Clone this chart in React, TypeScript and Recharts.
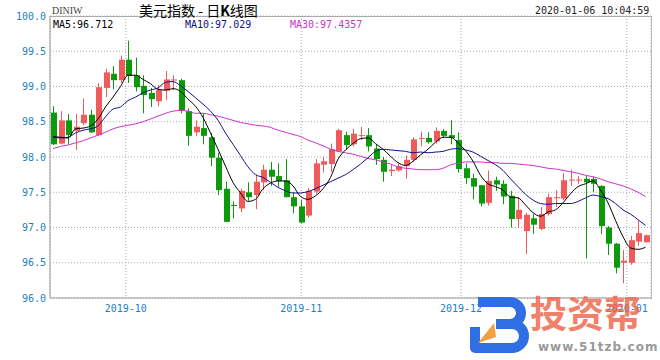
import React from 'react'
import { ComposedChart, Bar, Line, XAxis, YAxis, CartesianGrid } from 'recharts'

// daily candles, oldest -> newest
const openP = [
  98.63, 98.19, 98.52, 98.37, 98.48, 98.60, 98.31, 98.98, 99.18, 99.09,
  99.38, 99.16, 99.01, 98.91, 98.79, 98.94, 99.09, 99.09, 98.65, 98.35,
  98.41, 98.28, 97.99, 97.55, 97.32, 97.27, 97.50, 97.46, 97.64, 97.82,
  97.73, 97.67, 97.43, 97.30, 97.17, 97.51, 97.89, 97.90, 98.08, 98.31,
  98.18, 98.30, 98.31, 98.12, 97.96, 97.80, 97.81, 97.87, 97.96, 98.26,
  98.27, 98.22, 98.37, 98.31, 98.24, 97.84, 97.70, 97.60, 97.35, 97.67,
  97.62, 97.45, 97.12, 96.95, 97.13, 96.98, 97.19, 97.42, 97.41, 97.67,
  97.68, 97.69, 97.69, 97.59, 97.00, 96.77, 96.50, 96.50, 96.80, 96.79,
]
const highP = [
  98.72, 98.65, 98.61, 98.61, 98.83, 98.67, 99.05, 99.25, 99.29, 99.44,
  99.65, 99.41, 99.16, 98.98, 99.02, 99.22, 99.16, 99.11, 98.69, 98.52,
  98.62, 98.34, 98.06, 97.65, 97.37, 97.55, 97.64, 97.75, 97.89, 97.93,
  97.91, 97.97, 97.50, 97.39, 97.56, 97.97, 98.00, 98.19, 98.40, 98.36,
  98.40, 98.43, 98.41, 98.18, 98.00, 97.89, 97.91, 98.02, 98.28, 98.36,
  98.35, 98.42, 98.40, 98.52, 98.35, 97.91, 97.76, 97.60, 97.81, 97.72,
  97.67, 97.52, 97.43, 97.21, 97.19, 97.29, 97.48, 97.53, 97.77, 97.82,
  97.73, 97.73, 97.72, 97.60, 97.02, 96.78, 96.68, 96.88, 97.09, 96.90,
]
const lowP = [
  98.17, 98.18, 98.18, 98.10, 98.45, 98.34, 98.30, 98.85, 98.96, 99.05,
  99.05, 98.93, 98.62, 98.71, 98.72, 98.81, 98.95, 98.62, 98.16, 98.30,
  98.18, 97.87, 97.46, 97.08, 97.13, 97.22, 97.38, 97.26, 97.53, 97.59,
  97.58, 97.43, 97.20, 97.06, 97.14, 97.48, 97.78, 97.79, 98.07, 98.10,
  98.15, 98.24, 98.08, 97.89, 97.65, 97.73, 97.79, 97.69, 97.93, 98.15,
  98.19, 98.19, 98.28, 98.18, 97.78, 97.62, 97.40, 97.30, 97.31, 97.52,
  97.33, 97.00, 97.00, 96.62, 96.91, 96.96, 97.17, 97.29, 97.39, 97.59,
  97.62, 96.56, 97.50, 96.91, 96.61, 96.35, 96.21, 96.47, 96.74, 96.79,
]
const closeP = [
  98.18, 98.52, 98.31, 98.43, 98.60, 98.35, 98.99, 99.20, 99.09, 99.38,
  99.15, 98.99, 98.88, 98.82, 98.95, 99.10, 99.10, 98.66, 98.30, 98.43,
  98.30, 97.99, 97.53, 97.08, 97.31, 97.52, 97.43, 97.65, 97.82, 97.72,
  97.66, 97.43, 97.30, 97.07, 97.52, 97.91, 97.94, 98.11, 98.38, 98.17,
  98.33, 98.31, 98.15, 97.97, 97.79, 97.82, 97.87, 97.96, 98.25, 98.27,
  98.21, 98.37, 98.30, 98.27, 97.83, 97.70, 97.58, 97.34, 97.66, 97.61,
  97.44, 97.12, 97.25, 97.18, 97.04, 97.19, 97.43, 97.43, 97.67, 97.68,
  97.68, 97.64, 97.62, 97.02, 96.77, 96.43, 96.53, 96.82, 96.92, 96.89,
]
const ma5 = [
  98.29, 98.28, 98.27, 98.40, 98.41, 98.44, 98.54, 98.71, 98.85, 99.00,
  99.16, 99.16, 99.10, 99.04, 98.96, 98.95, 98.97, 98.93, 98.82, 98.72,
  98.56, 98.34, 98.11, 97.87, 97.64, 97.49, 97.37, 97.40, 97.55, 97.63,
  97.66, 97.66, 97.59, 97.44, 97.40, 97.45, 97.55, 97.71, 97.97, 98.10,
  98.19, 98.26, 98.27, 98.19, 98.11, 98.01, 97.92, 97.88, 97.94, 98.03,
  98.11, 98.21, 98.28, 98.28, 98.20, 98.09, 97.94, 97.74, 97.62, 97.58,
  97.53, 97.43, 97.42, 97.32, 97.21, 97.16, 97.22, 97.25, 97.35, 97.48,
  97.58, 97.62, 97.66, 97.53, 97.35, 97.10, 96.87, 96.71, 96.69, 96.72,
]
const ma10 = [
  98.28, 98.27, 98.28, 98.34, 98.38, 98.40, 98.44, 98.57, 98.68, 98.71,
  98.80, 98.85, 98.91, 98.95, 98.98, 99.06, 99.07, 99.01, 98.93, 98.84,
  98.75, 98.65, 98.52, 98.34, 98.18, 98.02, 97.86, 97.75, 97.71, 97.64,
  97.57, 97.52, 97.49, 97.49, 97.51, 97.55, 97.60, 97.65, 97.70, 97.75,
  97.82, 97.90, 97.99, 98.08, 98.11, 98.10, 98.09, 98.08, 98.06, 98.07,
  98.06, 98.07, 98.08, 98.11, 98.12, 98.10, 98.07, 98.01, 97.95, 97.89,
  97.81, 97.69, 97.58, 97.47, 97.39, 97.34, 97.33, 97.34, 97.34, 97.34,
  97.37, 97.42, 97.46, 97.44, 97.41, 97.34, 97.25, 97.19, 97.11, 97.03,
]
const ma30 = [
  98.12, 98.15, 98.17, 98.20, 98.23, 98.27, 98.31, 98.35, 98.40, 98.43,
  98.45, 98.47, 98.50, 98.54, 98.58, 98.62, 98.65, 98.66, 98.65, 98.62,
  98.62, 98.60, 98.58, 98.55, 98.52, 98.49, 98.47, 98.45, 98.44, 98.42,
  98.38, 98.35, 98.32, 98.29, 98.24, 98.20, 98.16, 98.11, 98.08, 98.06,
  98.04, 98.01, 97.98, 97.96, 97.93, 97.90, 97.86, 97.84, 97.83, 97.82,
  97.82, 97.82, 97.84, 97.89, 97.91, 97.93, 97.93, 97.93, 97.92, 97.92,
  97.91, 97.91, 97.90, 97.89, 97.88, 97.86, 97.84, 97.83, 97.81, 97.79,
  97.77, 97.74, 97.72, 97.69, 97.65, 97.62, 97.59, 97.55, 97.50, 97.44,
]

const yTicks = [96, 96.5, 97, 97.5, 98, 98.5, 99, 99.5, 100]
// month starts, in candle-index units
const monthPos = [9.7, 33.1, 54.4, 76.5]
const monthLabels = ['2019-10', '2019-11', '2019-12', '2020-01']

const RED = '#f05a5a'
const GREEN = '#0c9a0c'
const BLUE = '#1e7fc0'
const MONO = '"DejaVu Sans Mono", monospace'

const rows = closeP.map((c, i) => ({
  i,
  o: openP[i],
  h: highP[i],
  l: lowP[i],
  c,
  range: [lowP[i], highP[i]],
  ma5: ma5[i],
  ma10: ma10[i],
  ma30: ma30[i],
}))

function Candle(props: any) {
  const { x, y, width, height, payload } = props
  if (!payload) return null
  const { o, h, l, c } = payload
  const cx = Math.round(x + width / 2)
  const unit = h > l ? height / (h - l) : 0
  const yOf = (v: number) => y + (h - v) * unit
  const color = c >= o ? RED : GREEN
  const top = yOf(Math.max(o, c))
  const bodyH = Math.max(1, yOf(Math.min(o, c)) - top)
  return (
    <g>
      <line x1={cx + 0.5} x2={cx + 0.5} y1={y} y2={y + height} stroke={color} strokeWidth={1} />
      <rect x={cx - 2} y={top} width={6} height={bodyH} fill={color} />
    </g>
  )
}

const txt = (extra: React.CSSProperties): React.CSSProperties => ({
  position: 'absolute',
  whiteSpace: 'nowrap',
  lineHeight: 1,
  ...extra,
})

export default function App() {
  return (
    <div style={{ position: 'absolute', left: 0, top: 0, width: 660, height: 360, background: '#fff', overflow: 'hidden' }}>
      <ComposedChart width={660} height={360} data={rows} margin={{ top: 16, right: 9, bottom: 32, left: 0 }}>
        <CartesianGrid stroke="#aaa" strokeDasharray="1 2" />
        <XAxis
          dataKey="i"
          type="number"
          domain={[-0.4, 79.73]}
          allowDataOverflow
          ticks={monthPos}
          interval={0}
          tickFormatter={(v: number) => monthLabels[monthPos.indexOf(v)] ?? ''}
          tick={{ fill: BLUE, fontSize: 10, fontFamily: MONO }}
          tickLine={false}
          tickSize={0}
          tickMargin={7}
          height={30}
          axisLine={{ stroke: '#999' }}
        />
        <YAxis
          type="number"
          domain={[96, 100]}
          allowDataOverflow
          ticks={yTicks}
          interval={0}
          tickFormatter={(v: number) => v.toFixed(1)}
          tick={{ fill: BLUE, fontSize: 10, fontFamily: MONO }}
          tickLine={false}
          tickSize={0}
          tickMargin={4}
          width={50}
          axisLine={{ stroke: '#999' }}
        />
        <Bar dataKey="range" barSize={6} shape={(p: any) => <Candle {...p} />} isAnimationActive={false} />
        <Line type="monotone" dataKey="ma30" stroke="#cc33cc" strokeWidth={1} dot={false} isAnimationActive={false} />
        <Line type="monotone" dataKey="ma10" stroke="#10108c" strokeWidth={1} dot={false} isAnimationActive={false} />
        <Line type="monotone" dataKey="ma5" stroke="#000" strokeWidth={1} dot={false} isAnimationActive={false} />
      </ComposedChart>

      {/* plot frame */}
      <div style={{ position: 'absolute', left: 50, top: 16, width: 601, height: 282, borderTop: '1px solid #aaa', borderRight: '1px solid #bbb', pointerEvents: 'none' }} />

      {/* header */}
      <div style={txt({ left: 52, top: 6, fontSize: 10, fontFamily: '"Liberation Serif", serif', color: '#444' })}>DINIW</div>
      <div style={txt({ left: 139, top: 3, fontSize: 14, fontFamily: '"Noto Sans CJK SC", sans-serif', color: '#000' })}>
        美元指数&nbsp;-&nbsp;日<b>K</b>线图
      </div>
      <div style={txt({ left: 535, top: 6, fontSize: 10, fontFamily: MONO, color: '#222' })}>2020-01-06 10:04:59</div>

      {/* MA legend */}
      <div style={txt({ left: 53, top: 20, fontSize: 10, fontFamily: MONO, color: '#000' })}>MA5:96.712</div>
      <div style={txt({ left: 185, top: 20, fontSize: 10, fontFamily: MONO, color: '#10108c' })}>MA10:97.029</div>
      <div style={txt({ left: 290, top: 20, fontSize: 10, fontFamily: MONO, color: '#cc33cc' })}>MA30:97.4357</div>

      {/* watermark */}
      <svg style={{ position: 'absolute', left: 466, top: 293, pointerEvents: 'none' }} width={64} height={64}>
        <path d="M12 9 H44 a11 11 0 0 1 0 22 H30 M30 31 H46 a12 12 0 0 1 0 24 H9 V34" fill="none" stroke="#2f6fe3" strokeWidth={10} strokeLinejoin="round" />
        <path d="M12 50 L28 30 L30 44 Z" fill="#f5a040" />
      </svg>
      <div style={txt({ left: 530, top: 294, fontSize: 37, fontWeight: 700, fontFamily: '"Noto Sans CJK SC", sans-serif', color: 'rgba(238,100,72,0.82)' })}>投资帮</div>
      <div style={txt({ left: 538, top: 341, fontSize: 12, fontWeight: 700, letterSpacing: 1, fontFamily: '"DejaVu Sans", sans-serif', color: '#9a9a9a' })}>www.51tzb.com</div>
    </div>
  )
}
